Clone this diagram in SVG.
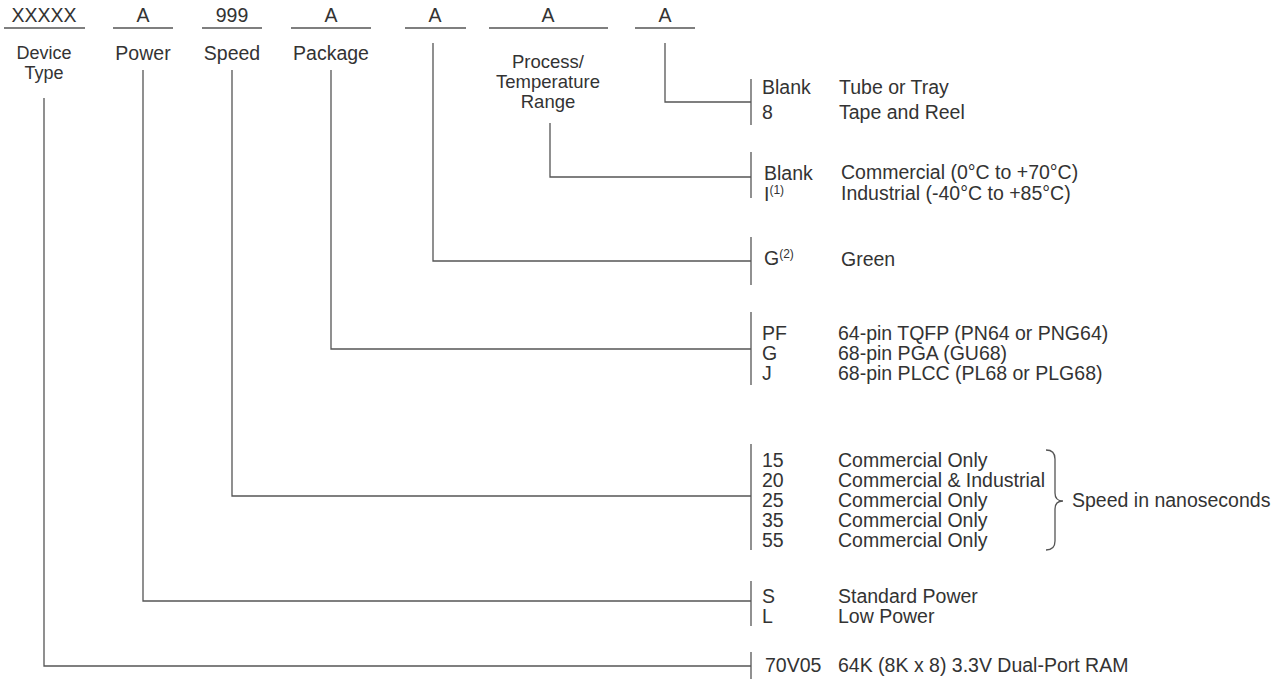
<svg xmlns="http://www.w3.org/2000/svg" width="1284" height="679" viewBox="0 0 1284 679">
<style>
text{font-family:"Liberation Sans",Arial,sans-serif;font-size:19.5px;fill:#333}
.c{text-anchor:middle}
.h2{font-size:18.5px}
.h3{font-size:18px}
.sup{font-size:12px}
line,path,polyline{stroke:#555;stroke-width:1.3;fill:none}
</style>
<rect width="1284" height="679" fill="#fff"/>
<g id="header">
<g id="f-device"><text class="c" x="44" y="22">XXXXX</text><line x1="4" y1="28" x2="85" y2="28"/><text class="c h3" x="44" y="59">Device</text><text class="c h3" x="44" y="79">Type</text></g>
<g id="f-power"><text class="c" x="143" y="22">A</text><line x1="113" y1="28" x2="173" y2="28"/><text class="c" x="143" y="60">Power</text></g>
<g id="f-speed"><text class="c" x="232" y="22">999</text><line x1="202" y1="28" x2="262" y2="28"/><text class="c" x="232" y="60">Speed</text></g>
<g id="f-package"><text class="c" x="331" y="22">A</text><line x1="291" y1="28" x2="371" y2="28"/><text class="c" x="331" y="60">Package</text></g>
<g id="f-green"><text class="c" x="435" y="22">A</text><line x1="405" y1="28" x2="466" y2="28"/></g>
<g id="f-process"><text class="c" x="548" y="22">A</text><line x1="489" y1="28" x2="608" y2="28"/><text class="c h2" x="548" y="68">Process/</text><text class="c h2" x="548" y="88">Temperature</text><text class="c h2" x="548" y="108">Range</text></g>
<g id="f-pack"><text class="c" x="665" y="22">A</text><line x1="635" y1="28" x2="695" y2="28"/></g>
</g>
<g id="connectors">
<polyline points="665,43 665,102 751,102"/>
<polyline points="550,123 550,177 751,177"/>
<polyline points="433,43 433,261 751,261"/>
<polyline points="331,70 331,349 751,349"/>
<polyline points="232,70 232,496 751,496"/>
<polyline points="143,70 143,601 751,601"/>
<polyline points="44,98 44,666 751,666"/>
</g>
<g id="opt-pack"><line x1="751" y1="79" x2="751" y2="125"/><text x="762" y="94">Blank</text><text x="762" y="119">8</text><text x="839" y="94">Tube or Tray</text><text x="839" y="119">Tape and Reel</text></g>
<g id="opt-process"><line x1="751" y1="152" x2="751" y2="198"/><text x="764" y="180">Blank</text><text x="764" y="201">I<tspan class="sup" dy="-7">(1)</tspan></text><text x="841" y="179">Commercial (0°C to +70°C)</text><text x="841" y="200">Industrial (-40°C to +85°C)</text></g>
<g id="opt-green"><line x1="751" y1="237" x2="751" y2="285"/><text x="764" y="265">G<tspan class="sup" dy="-7">(2)</tspan></text><text x="841" y="266">Green</text></g>
<g id="opt-package"><line x1="751" y1="312" x2="751" y2="385"/><text x="762" y="340">PF</text><text x="762" y="360">G</text><text x="762" y="380">J</text><text x="838" y="340">64-pin TQFP (PN64 or PNG64)</text><text x="838" y="360">68-pin PGA (GU68)</text><text x="838" y="380">68-pin PLCC (PL68 or PLG68)</text></g>
<g id="opt-speed"><line x1="751" y1="444" x2="751" y2="550"/>
<text x="762" y="467">15</text><text x="762" y="487">20</text><text x="762" y="507">25</text><text x="762" y="527">35</text><text x="762" y="547">55</text>
<text x="838" y="467">Commercial Only</text><text x="838" y="487">Commercial &amp; Industrial</text><text x="838" y="507">Commercial Only</text><text x="838" y="527">Commercial Only</text><text x="838" y="547">Commercial Only</text>
<path d="M1046,450 Q1055,450 1055,459 L1055,493 Q1055,501 1063,501 Q1055,501 1055,509 L1055,541 Q1055,550 1046,550"/>
<text x="1072" y="507">Speed in nanoseconds</text></g>
<g id="opt-power"><line x1="751" y1="581" x2="751" y2="626"/><text x="762" y="603">S</text><text x="762" y="623">L</text><text x="838" y="603">Standard Power</text><text x="838" y="623">Low Power</text></g>
<g id="opt-device"><line x1="751" y1="652" x2="751" y2="679"/><text x="765" y="672">70V05</text><text x="838" y="672">64K (8K x 8) 3.3V Dual-Port RAM</text></g>
</svg>
